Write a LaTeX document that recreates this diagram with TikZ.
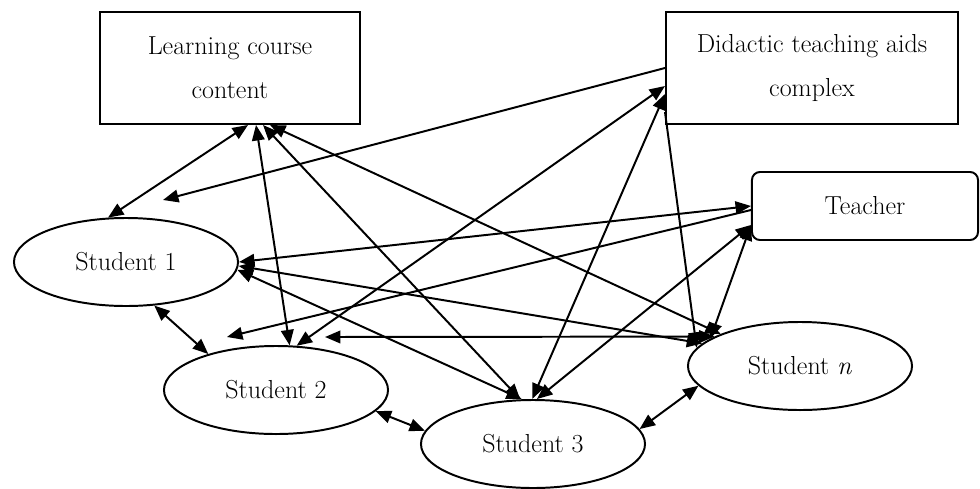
\documentclass[tikz,border=0pt]{standalone}
\usetikzlibrary{shapes.geometric,arrows.meta}
\tikzset{
  box/.style={draw, line width=1.4pt, align=center, minimum height=2.8cm},
  pupil/.style={draw, ellipse, line width=1.4pt, minimum width=5.6cm, minimum height=2.2cm, inner sep=0pt},
  link/.style={line width=1.4pt, {Triangle[length=11pt,width=9pt]}-{Triangle[length=11pt,width=9pt]}},
  onelink/.style={line width=1.4pt, -{Triangle[length=11pt,width=9pt]}}
}

\begin{document}
\begin{tikzpicture}[x=0.025cm, y=-0.025cm, font=\fontsize{18.5}{31}\selectfont]
\useasboundingbox (0,0) rectangle (980,488);
\node[box, minimum width=6.5cm] (lcc) at (230,68) {Learning course\\content};
\node[box, minimum width=7.3cm] (dtac) at (812,68) {Didactic teaching aids\\complex};
\node[box, rounded corners=0.2cm, minimum width=5.65cm, minimum height=1.7cm] (teacher) at (865,206) {Teacher};
\node[pupil] (s1) at (126,262) {Student 1};
\node[pupil] (s2) at (276,390) {Student 2};
\node[pupil] (s3) at (533,444) {Student 3};
\node[pupil] (sn) at (800,366) {Student \textit{n}};
% loose arrow ends
\coordinate (e1) at (163,200);
\coordinate (e2) at (227,337);
\coordinate (e3) at (325,337);
% course content
\draw[link] ([xshift=0.45cm]lcc.south) -- (s1.112);
\draw[link] ([xshift=0.65cm]lcc.south) -- (s2.73);
\draw[link] ([xshift=0.825cm]lcc.south) -- (s3.106);
\draw[link] ([xshift=1cm]lcc.south) -- (sn.158);
% teaching aids
\draw[onelink] (dtac.west) -- (e1);
\draw[link] ([yshift=-0.45cm]dtac.west) -- (s2.65);
\draw[link] ([yshift=-0.65cm]dtac.west) -- (s3.91);
\draw[onelink] ([yshift=-1.1cm]dtac.west) -- (sn.170);
% teacher
\draw[link] (teacher.west) -- (s1.east);
\draw[onelink] ([yshift=-0.1cm]teacher.west) -- (e2);
\draw[link] ([yshift=0.4cm]teacher.south west) -- (s3.85);
\draw[link] ([yshift=0.4cm]teacher.south west) -- (sn.163);
% students
\draw[link] (s1.-57) -- (s2.152);
\draw[link] (s2.-12) -- (s3.173);
\draw[link] (s3.8) -- (sn.191);
\draw[link] (s1.-4) -- (s3.104);
\draw[link] (s1.-2) -- (sn.167);
\draw[link] (sn.161) -- (e3);
%\draw[link] (s2.east) -- (sn.west);
\end{tikzpicture}
\end{document}
